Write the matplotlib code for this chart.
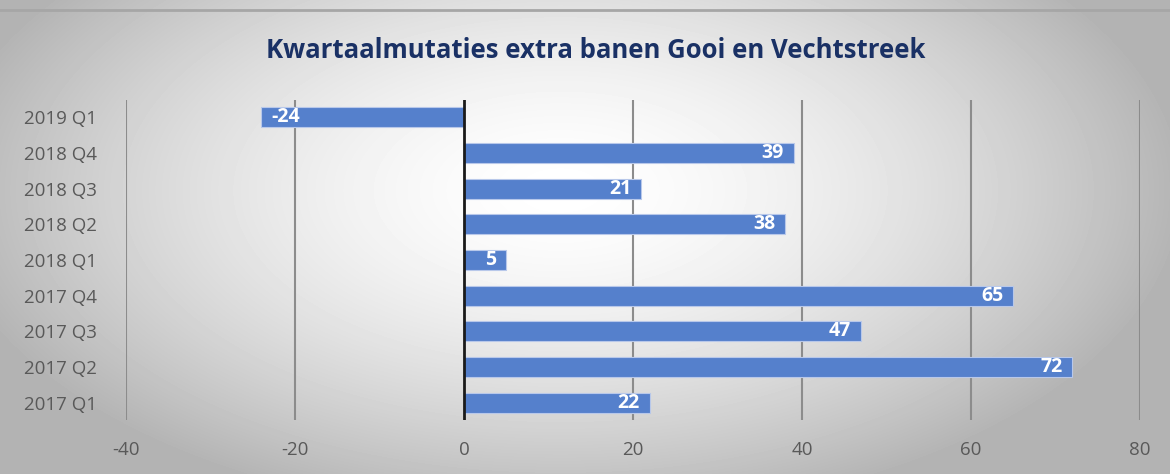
import numpy as np
import matplotlib.pyplot as plt

# Data
quarters = ['2017 Q1', '2017 Q2', '2017 Q3', '2017 Q4', '2018 Q1',
            '2018 Q2', '2018 Q3', '2018 Q4', '2019 Q1']
mutaties = [22, 72, 47, 65, 5, 38, 21, 39, -24]
xticks = [-40, -20, 0, 20, 40, 60, 80]

fig = plt.figure(figsize=(11.7, 4.74), dpi=100)

# radial gradient background
bg = fig.add_axes([0, 0, 1, 1], zorder=-10)
yy, xx = np.mgrid[0:474, 0:1170]
r = np.sqrt(((xx - 560) / 680.0) ** 2 + ((yy - 190) / 360.0) ** 2)
shade = np.clip(1.0 - 0.34 * r ** 1.6, 0.70, 1.0)
bg.imshow(shade, cmap='gray', vmin=0, vmax=1, aspect='auto', interpolation='bilinear')
bg.axhline(10, color='#a6a6a6', linewidth=2)
bg.axis('off')

ax = fig.add_axes([0.1077, 0.114, 0.8667, 0.675])
ax.patch.set_alpha(0)

y = np.arange(len(quarters))
ax.barh(y, mutaties, height=0.56, color='#5580cc', edgecolor='#b8c8ea',
        linewidth=0.8, zorder=3)

for yi, v in zip(y, mutaties):
    if v >= 0:
        ax.text(v - 1.2, yi, str(v), ha='right', va='center', color='white',
                fontsize=14, fontweight='bold', family='Open Sans', zorder=4)
    else:
        ax.text(v + 1.2, yi, str(v), ha='left', va='center', color='white',
                fontsize=14, fontweight='bold', family='Open Sans', zorder=4)

ax.set_xlim(-40, 80)
ax.set_ylim(-0.48, 8.48)
ax.set_xticks(xticks)
ax.set_xticklabels([str(t) for t in xticks])
ax.set_yticks(y)
ax.set_yticklabels(quarters)
ax.tick_params(length=0, labelsize=13.5, colors='#595959')
ax.tick_params(axis='x', pad=15)
ax.tick_params(axis='y', pad=21)
for lbl in ax.get_xticklabels() + ax.get_yticklabels():
    lbl.set_family('Open Sans')

for xv in xticks:
    if xv != 0:
        ax.axvline(xv, color='#8c8c8c', linewidth=1.5, zorder=1)
ax.axvline(0, color='#1a1a1a', linewidth=2, zorder=5)

for s in ax.spines.values():
    s.set_visible(False)

fig.text(0.509, 0.893, 'Kwartaalmutaties extra banen Gooi en Vechtstreek',
         ha='center', va='center', fontsize=18.5, fontweight='bold',
         color='#1a3165', family='Open Sans')

fig.savefig('out.png', dpi=100)
